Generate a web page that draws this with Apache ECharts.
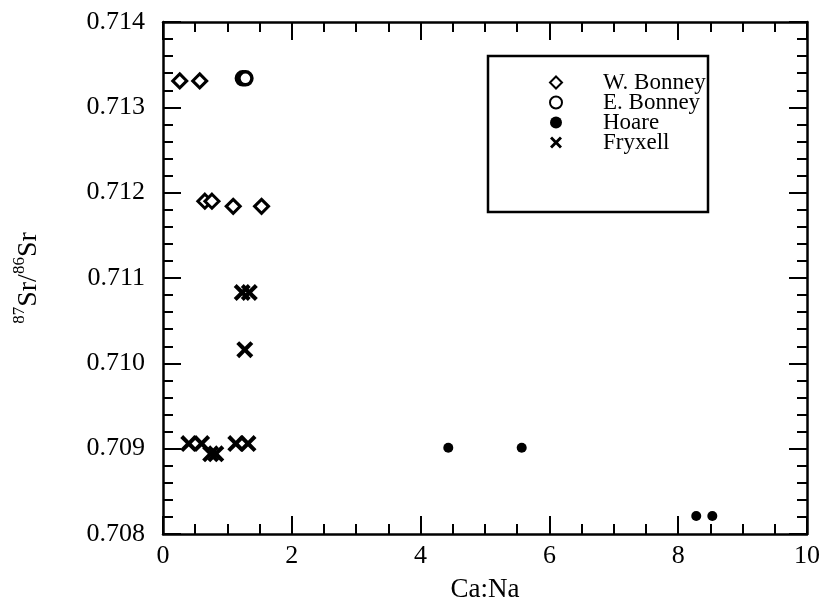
<!DOCTYPE html>
<html>
<head>
<meta charset="utf-8">
<script src="https://cdn.jsdelivr.net/npm/echarts@6/dist/echarts.min.js"></script>
<style>
  html, body { margin: 0; padding: 0; background: #fff; }
  #chart { width: 823px; height: 608px; }
</style>
</head>
<body>
<div id="chart"></div>
<script>
// values
const wBonneyX = [0.26, 0.57, 0.65, 0.76, 1.09, 1.53];
const wBonneyY = [0.71331, 0.71331, 0.71190, 0.71190, 0.71184, 0.71184];
const eBonneyX = [1.24, 1.28];
const eBonneyY = [0.71334, 0.71334];
const hoareX = [4.43, 5.57, 8.28, 8.53];
const hoareY = [0.70901, 0.70901, 0.70821, 0.70821];
const fryxellX = [1.23, 1.34, 1.27, 0.40, 0.60, 0.74, 0.82, 1.13, 1.32];
const fryxellY = [0.71083, 0.71083, 0.71016, 0.70906, 0.70906, 0.70894, 0.70894, 0.70906, 0.70906];

const FONT = '"Liberation Serif", "Times New Roman", serif';
const crossPath = 'path://M0,1.7L1.7,0L5,3.3L8.3,0L10,1.7L6.7,5L10,8.3L8.3,10L5,6.7L1.7,10L0,8.3L3.3,5Z';

function pairs(xs, ys) {
  return xs.map((x, i) => [x, ys[i]]);
}

const chart = echarts.init(document.getElementById('chart'));

const axisCommon = {
  axisLine: { show: true, onZero: false, lineStyle: { color: '#000', width: 2.5 } },
  axisTick: { show: true, inside: true, length: 18, lineStyle: { color: '#000', width: 2 } },
  minorTick: { show: true, length: 10, lineStyle: { color: '#000', width: 2 } },
  splitLine: { show: false }
};

const option = {
  animation: false,
  backgroundColor: '#fff',
  grid: { left: 163, top: 22, right: 15, bottom: 73 },
  graphic: [{
    type: 'rect',
    shape: { x: 488, y: 56, width: 220, height: 156 },
    style: { fill: '#fff', stroke: '#000', lineWidth: 2.5 },
    z: 10
  }],
  legend: {
    orient: 'vertical',
    left: 544,
    top: 66,
    itemWidth: 12,
    itemHeight: 12,
    itemGap: -3,
    z: 20,
    data: ['W. Bonney', 'E. Bonney', 'Hoare', 'Fryxell'],
    textStyle: { fontFamily: FONT, fontSize: 23, color: '#000', lineHeight: 21, padding: [0, 0, 0, 36] }
  },
  xAxis: [
    Object.assign({}, axisCommon, {
      type: 'value', min: 0, max: 10, interval: 2,
      minorTick: Object.assign({}, axisCommon.minorTick, { splitNumber: 4 }),
      name: 'Ca:Na', nameLocation: 'middle', nameGap: 42,
      nameTextStyle: { fontFamily: FONT, fontSize: 27, color: '#000' },
      axisLabel: { fontFamily: FONT, fontSize: 26, color: '#000', margin: 9 }
    }),
    Object.assign({}, axisCommon, {
      type: 'value', min: 0, max: 10, interval: 2, position: 'top',
      minorTick: Object.assign({}, axisCommon.minorTick, { splitNumber: 4 }),
      axisLabel: { show: false }
    })
  ],
  yAxis: [
    Object.assign({}, axisCommon, {
      type: 'value', min: 0.708, max: 0.714, interval: 0.001,
      minorTick: Object.assign({}, axisCommon.minorTick, { splitNumber: 5 }),
      name: '{sup|87}{b|Sr/}{sup|86}{b|Sr}', nameLocation: 'middle', nameGap: 120, nameRotate: 90,
      nameTextStyle: {
        fontFamily: FONT, color: '#000',
        rich: {
          b: { fontFamily: FONT, fontSize: 28, color: '#000', verticalAlign: 'bottom', lineHeight: 32 },
          sup: { fontFamily: FONT, fontSize: 17, color: '#000', verticalAlign: 'top', lineHeight: 14 }
        }
      },
      axisLabel: {
        fontFamily: FONT, fontSize: 26, color: '#000', margin: 18,
        formatter: v => v.toFixed(3)
      }
    }),
    Object.assign({}, axisCommon, {
      type: 'value', min: 0.708, max: 0.714, interval: 0.001, position: 'right',
      minorTick: Object.assign({}, axisCommon.minorTick, { splitNumber: 5 }),
      axisLabel: { show: false }
    })
  ],
  series: [
    {
      name: 'W. Bonney', type: 'scatter', symbol: 'diamond', symbolSize: 14,
      itemStyle: { color: '#fff', borderColor: '#000', borderWidth: 3, opacity: 1 },
      data: pairs(wBonneyX, wBonneyY)
    },
    {
      name: 'E. Bonney', type: 'scatter', symbol: 'circle', symbolSize: 13,
      itemStyle: { color: '#fff', borderColor: '#000', borderWidth: 3.5, opacity: 1 },
      data: pairs(eBonneyX, eBonneyY)
    },
    {
      name: 'Hoare', type: 'scatter', symbol: 'circle', symbolSize: 10,
      itemStyle: { color: '#000', opacity: 1 },
      data: pairs(hoareX, hoareY)
    },
    {
      name: 'Fryxell', type: 'scatter', symbol: crossPath, symbolSize: 17,
      itemStyle: { color: '#000', opacity: 1 },
      data: pairs(fryxellX, fryxellY)
    }
  ]
};

chart.setOption(option);
</script>
</body>
</html>
